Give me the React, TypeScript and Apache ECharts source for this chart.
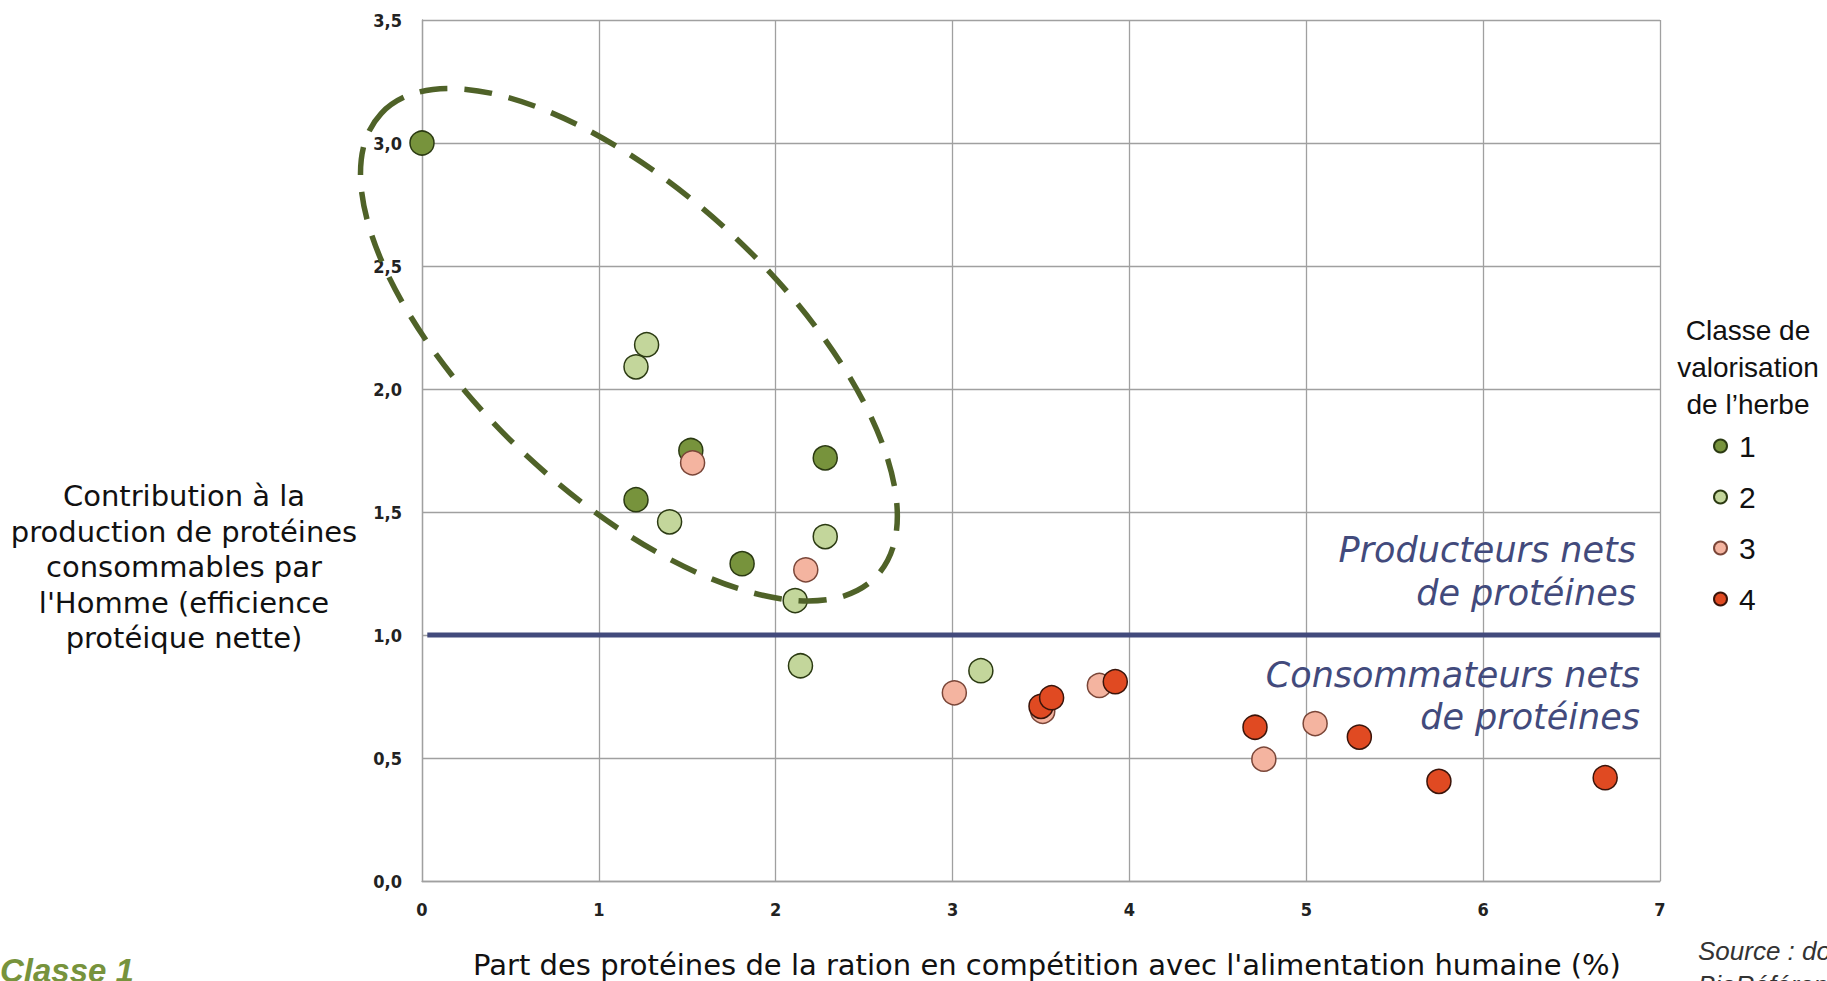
import React, { useEffect, useRef } from "react";
import * as echarts from "echarts";

const classNames = ["1", "2", "3", "4"];
const class1X = [0, 1.52, 1.21, 2.28, 1.81];
const class1Y = [3.0, 1.75, 1.55, 1.72, 1.29];
const class2X = [1.27, 1.21, 1.4, 2.28, 2.11, 2.14, 3.16];
const class2Y = [2.18, 2.09, 1.46, 1.4, 1.14, 0.875, 0.855];
const class3X = [1.53, 2.17, 3.01, 3.51, 3.83, 4.76, 5.05];
const class3Y = [1.7, 1.265, 0.765, 0.69, 0.795, 0.495, 0.64];
const class4X = [3.5, 3.56, 3.92, 4.71, 5.3, 5.75, 6.69];
const class4Y = [0.71, 0.745, 0.81, 0.625, 0.585, 0.405, 0.42];
const thresholdX = [0.03, 7];
const thresholdY = [1, 1];

const xTicks = { min: 0, max: 7, interval: 1 };
const yTicks = { min: 0, max: 3.5, interval: 0.5 };

const fills = ["#77933C", "#C3D69B", "#F4B4A0", "#E04A22"];
const borders = ["#2B3A12", "#2B3A12", "#7A4638", "#3A140A"];

const zip = (xs: number[], ys: number[]) => xs.map((x, i) => [x, ys[i]]);

export default function App() {
  const ref = useRef<HTMLDivElement>(null);
  useEffect(() => {
    document.body.style.margin = "0";
    const chart = echarts.init(ref.current!, undefined, { renderer: "svg" });
    const groups = [
      zip(class1X, class1Y),
      zip(class2X, class2Y),
      zip(class3X, class3Y),
      zip(class4X, class4Y),
    ];
    const tickFont = {
      fontFamily: "DejaVu Sans Condensed, DejaVu Sans",
      fontWeight: "bold" as const,
      fontSize: 18,
      color: "#222",
    };
    chart.setOption({
      animation: false,
      grid: { left: 422, right: 167, top: 20, bottom: 100, containLabel: false },
      xAxis: {
        type: "value",
        min: xTicks.min,
        max: xTicks.max,
        interval: xTicks.interval,
        axisLine: { show: true, lineStyle: { color: "#A0A0A0", width: 1.3 } },
        axisTick: { show: false },
        axisLabel: { ...tickFont, margin: 19 },
        splitLine: { show: true, lineStyle: { color: "#A0A0A0", width: 1.3 } },
      },
      yAxis: {
        type: "value",
        min: yTicks.min,
        max: yTicks.max,
        interval: yTicks.interval,
        axisLine: { show: true, lineStyle: { color: "#A0A0A0", width: 1.3 } },
        axisTick: { show: false },
        axisLabel: {
          ...tickFont,
          margin: 20,
          formatter: (v: number) => v.toFixed(1).replace(".", ","),
        },
        splitLine: { show: true, lineStyle: { color: "#A0A0A0", width: 1.3 } },
      },
      legend: {
        orient: "vertical",
        left: 1713,
        top: 431,
        padding: 0,
        itemGap: 21,
        itemWidth: 13,
        itemHeight: 13,
        icon: "circle",
        data: classNames,
        textStyle: {
          fontFamily: "Liberation Sans",
          fontSize: 30,
          lineHeight: 30,
          color: "#111",
          padding: [0, 0, 0, 7],
        },
      },
      series: [
        {
          type: "line",
          data: zip(thresholdX, thresholdY),
          symbol: "none",
          silent: true,
          lineStyle: { color: "#424A7C", width: 5 },
          z: 1,
        },
        ...groups.map((d, i) => ({
          name: classNames[i],
          type: "scatter",
          data: d,
          symbolSize: 24,
          itemStyle: { color: fills[i], borderColor: borders[i], borderWidth: 1.5, opacity: 1 },
          z: 2 + i,
        })),
      ],
    });

    const c = chart.convertToPixel({ gridIndex: 0 }, [1.17, 2.18]) as number[];
    const textBase = { fontFamily: "DejaVu Sans", fill: "#111" };
    chart.setOption({
      graphic: [
        {
          type: "ellipse",
          x: c[0],
          y: c[1],
          rotation: (-43 * Math.PI) / 180,
          shape: { cx: 0, cy: 0, rx: 339, ry: 151 },
          style: { fill: "none", stroke: "#4F6228", lineWidth: 5.5, lineDash: [28, 17] },
          silent: true,
          z: 100,
        },
        {
          type: "text",
          x: 184,
          y: 567,
          style: {
            ...textBase,
            text: "Contribution à la\nproduction de protéines\nconsommables par\nl'Homme (efficience\nprotéique nette)",
            fontSize: 29,
            lineHeight: 35.5,
            textAlign: "center",
            textVerticalAlign: "middle",
          },
        },
        {
          type: "text",
          x: 1047,
          y: 965,
          style: {
            ...textBase,
            text: "Part des protéines de la ration en compétition avec l'alimentation humaine (%)",
            fontSize: 29,
            textAlign: "center",
            textVerticalAlign: "middle",
          },
        },
        {
          type: "text",
          x: 1636,
          y: 571,
          style: {
            fontFamily: "DejaVu Sans",
            fontStyle: "italic",
            fill: "#424A7C",
            text: "Producteurs nets\nde protéines",
            fontSize: 35,
            lineHeight: 43,
            textAlign: "right",
            textVerticalAlign: "middle",
          },
        },
        {
          type: "text",
          x: 1640,
          y: 696,
          style: {
            fontFamily: "DejaVu Sans",
            fontStyle: "italic",
            fill: "#424A7C",
            text: "Consommateurs nets\nde protéines",
            fontSize: 35,
            lineHeight: 42,
            textAlign: "right",
            textVerticalAlign: "middle",
          },
        },
        {
          type: "text",
          x: 1748,
          y: 367,
          style: {
            fontFamily: "Liberation Sans",
            fill: "#111",
            text: "Classe de\nvalorisation\nde l’herbe",
            fontSize: 28,
            lineHeight: 37,
            textAlign: "center",
            textVerticalAlign: "middle",
          },
        },
        {
          type: "text",
          x: 0,
          y: 954,
          style: {
            fontFamily: "Liberation Sans",
            fontStyle: "italic",
            fontWeight: "bold",
            fill: "#77933C",
            text: "Classe 1",
            fontSize: 33,
            textAlign: "left",
            textVerticalAlign: "top",
          },
        },
        {
          type: "text",
          x: 1698,
          y: 934,
          style: {
            fontFamily: "Liberation Sans",
            fontStyle: "italic",
            fill: "#333",
            text: "Source : données\nBioRéférences",
            fontSize: 26,
            lineHeight: 34,
            textAlign: "left",
            textVerticalAlign: "top",
          },
        },
      ],
    });
    return () => chart.dispose();
  }, []);
  return <div ref={ref} style={{ width: 1827, height: 981, overflow: "hidden" }} />;
}
